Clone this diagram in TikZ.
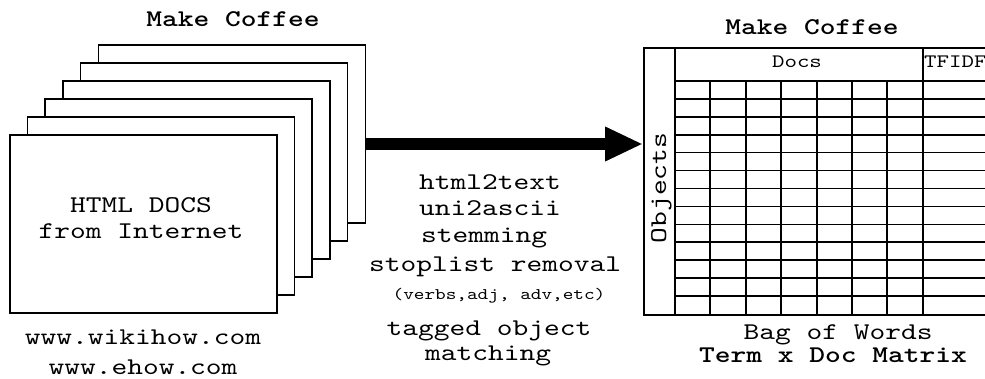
\documentclass[tikz,border=0pt]{standalone}
\usepackage{fontspec}
\newfontfamily\typew{lmmono10-regular.otf}[FakeStretch=1.25]
\newfontfamily\typewbold{lmmonolt10-bold.otf}[FakeStretch=1.25]
\usetikzlibrary{arrows.meta}
\begin{document}
\begin{tikzpicture}[x=1pt,y=-1pt,
  page/.style={draw, line width=1.6pt, fill=white, minimum width=267pt,
    minimum height=178pt, anchor=north west, inner sep=0pt},
  frame/.style={draw, line width=1.6pt, anchor=north west, inner sep=0pt},
  big/.style={font=\typew\fontsize{24}{24}\selectfont, anchor=base, inner sep=0pt},
  bigbold/.style={font=\typewbold\fontsize{24}{24}\selectfont, anchor=base, inner sep=0pt},
  mid/.style={font=\typew\fontsize{19}{19}\selectfont, anchor=base, inner sep=0pt},
  note/.style={font=\typew\fontsize{16.2}{16.2}\selectfont, anchor=base, inner sep=0pt},
  gridline/.style={line width=1.6pt},
  flow/.style={line width=12pt, -{Triangle[width=32pt,length=38pt]}}]

\clip (0,0) rectangle (985,379);
\fill[white] (0,0) rectangle (985,379);

% stack of pages, back to front
\foreach \i in {5,4,...,0}
  \node[page] (page\i) at ({9+17.7*\i},{134-18*\i}) {};

\node[bigbold] (ltitle) at (233,27) {Make Coffee};
\node[big] (html1) at (141,213) {HTML DOCS};
\node[big] (html2) at (141,239) {from Internet};
\node[big] (src1) at (143,344) {www.wikihow.com};
\node[big] (src2) at (143,374) {www.ehow.com};

% term x document table
\node[frame, minimum width=350pt, minimum height=267pt] (tbl) at (643,47) {};
\node[frame, minimum width=31pt, minimum height=267pt] (objcol) at (643,47) {};
\node[big, rotate=90] (objlabel) at (666,188) {Objects};
\draw[gridline] (674,81) -- (995,81);
\draw[gridline] (923,47) -- (923,314);
\foreach \x in {710,746,781,817,852,887}
  \draw[gridline] (\x,81) -- (\x,314);
\foreach \k in {1,...,12}
  \draw[gridline] (674,{81+17.92*\k}) -- (995,{81+17.92*\k});
\node[mid] (docs) at (797,68) {Docs};
\node[mid, anchor=base west] (tfidf) at (924,68) {TFIDF};

\node[bigbold] (rtitle) at (812,35) {Make Coffee};
\node[big] (bag) at (838,339) {Bag of Words};
\node[bigbold] (tdm) at (833,362) {Term x Doc Matrix};

% processing arrow
\coordinate (flowy) at (0,144);
\draw[flow] (page5.east |- flowy) -- (objcol.west |- flowy);

% processing steps
\node[big] (s1) at (490,190) {html2text};
\node[big] (s2) at (490,216) {uni2ascii};
\node[big] (s3) at (484,243) {stemming};
\node[big] (s4) at (495,272) {stoplist removal};
\node[note] (s5) at (499,299) {(verbs,adj, adv,etc)};
\node[big] (s6) at (489,335) {tagged object};
\node[big] (s7) at (488,360) {matching};
\end{tikzpicture}
\end{document}
